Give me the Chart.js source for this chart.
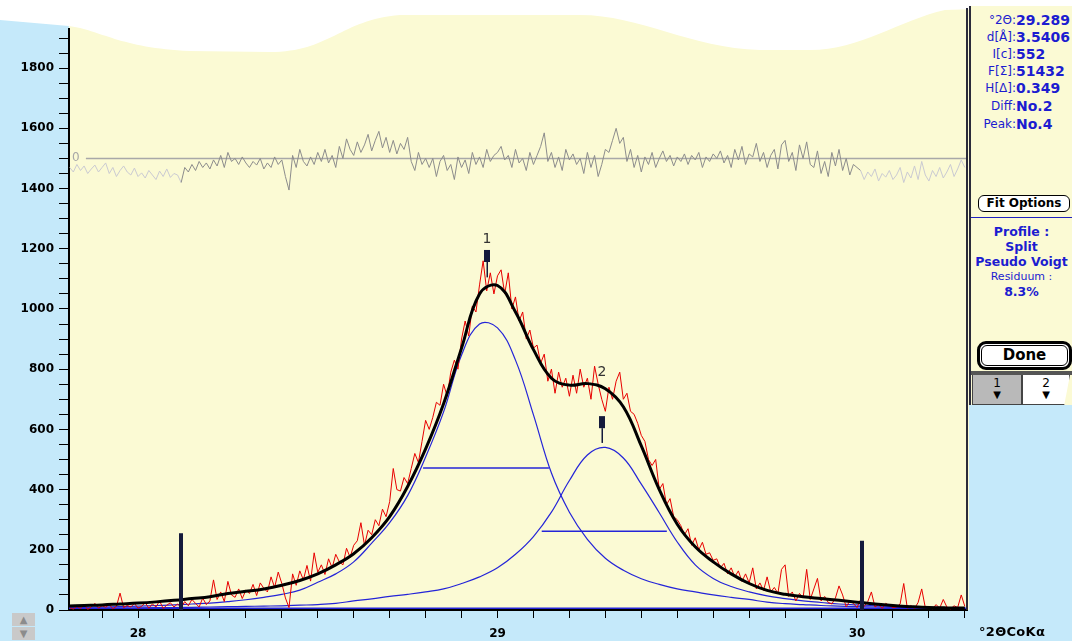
<!DOCTYPE html>
<html>
<head>
<meta charset="utf-8">
<script src="https://cdn.jsdelivr.net/npm/chart.js@4.4.1/dist/chart.umd.min.js"></script>
<style>
body { margin:0; width:1072px; height:641px; overflow:hidden; position:relative; background:#c5e9fa; font-family:"DejaVu Sans", sans-serif; }
#plot { position:absolute; left:0; top:0; }
#panel { position:absolute; left:969px; top:6px; width:103px; height:399px; background:#fbfad4; border-left:2px solid #2b2b3a; box-sizing:border-box; color:#1c1cd0; }
.row { position:absolute; left:0; width:101px; height:16px; line-height:16px; }
.lab { position:absolute; right:56px; font-size:12px; }
.val { position:absolute; left:45px; font-size:14px; font-weight:bold; }
.c { position:absolute; left:0; width:101px; text-align:center; font-size:12.5px; line-height:15px; }
.b { font-weight:bold; }
#fitbtn { position:absolute; left:7px; top:189px; width:92px; height:17px; border:1px solid #000; border-radius:6px; box-sizing:border-box; background:#fff; color:#000; font-size:12px; font-weight:bold; text-align:center; line-height:15px; }
#divider { position:absolute; left:0; top:211px; width:101px; height:1px; background:#2020c0; }
#done { position:absolute; left:6px; top:335px; width:95px; height:29px; border:3px solid #000; border-radius:9px; box-sizing:border-box; background:#fff; }
#done div { position:absolute; left:1px; top:1px; right:1px; bottom:1px; border:1px solid #000; border-radius:6px; color:#000; font-size:15px; font-weight:bold; text-align:center; line-height:19px; }
#band { position:absolute; left:0; top:365px; width:101px; height:4px; background:#555; }
.tab { position:absolute; top:369px; height:30px; box-sizing:border-box; border:1px solid #444; border-top:none; color:#000; font-size:12px; text-align:center; line-height:12px; padding-top:2px; }
.t1 { left:1px; width:50px; background:#b9b9b9; }
.t2 { left:51px; width:48px; background:#fff; clip-path:polygon(0 0,100% 0,88% 100%,0 100%); }
.arr { font-size:10px; line-height:11px; }
#unit { position:absolute; left:979px; top:624px; font-size:13px; font-weight:bold; color:#000; letter-spacing:0.3px; }
.scroll { position:absolute; left:12px; width:23px; height:13px; background:#c9c9c9; color:#8c8c8c; font-size:10px; text-align:center; line-height:13px; }
</style>
</head>
<body>
<canvas id="plot" width="1072" height="641"></canvas>
<div id="panel">
  <div class="row" style="top:6px"><span class="lab">°2Θ:</span><span class="val">29.289</span></div>
  <div class="row" style="top:23px"><span class="lab">d[Å]:</span><span class="val">3.5406</span></div>
  <div class="row" style="top:40px"><span class="lab">I[c]:</span><span class="val">552</span></div>
  <div class="row" style="top:57px"><span class="lab">F[Σ]:</span><span class="val">51432</span></div>
  <div class="row" style="top:74px"><span class="lab">H[Δ]:</span><span class="val">0.349</span></div>
  <div class="row" style="top:92px"><span class="lab">Diff:</span><span class="val">No.2</span></div>
  <div class="row" style="top:110px"><span class="lab">Peak:</span><span class="val">No.4</span></div>
  <div id="fitbtn">Fit Options</div>
  <div id="divider"></div>
  <div class="c b" style="top:218px">Profile :</div>
  <div class="c b" style="top:233px">Split</div>
  <div class="c b" style="top:248px">Pseudo Voigt</div>
  <div class="c" style="top:263px;font-size:11px">Residuum :</div>
  <div class="c b" style="top:278px">8.3%</div>
  <div id="done"><div>Done</div></div>
  <div id="band"></div>
  <div class="tab t1"><div>1</div><div class="arr">▼</div></div>
  <div class="tab t2"><div>2</div><div class="arr">▼</div></div>
</div>
<div id="unit">°2ΘCoKα</div>
<div class="scroll" style="top:613px">▲</div>
<div class="scroll" style="top:627px">▼</div>
<script>
// sampling grids (degrees 2-theta)
var fitTheta = [];
for (var i = 0; i <= 50; i++) fitTheta.push(+(27.80 + i * 0.05).toFixed(2));
var obsTheta = [];
for (var i = 0; i < 250; i++) obsTheta.push(+(27.81 + i * 0.01).toFixed(2));

// measured counts (red)
var observed = [
	8, 3, 12, 5, 18, 2, 10, 22, 6, 14,
	9, 18, 4, 12, 56, 8, 15, 10, 22, 6,
	12, 25, 6, 20, 10, 30, 5, 16, 24, 10,
	20, 8, 28, 14, 35, 22, 10, 40, 18, 30,
	100, 35, 60, 28, 95, 50, 42, 70, 38, 66,
	55, 85, 48, 90, 72, 60, 110, 75, 126, 88,
	40, 8, 120, 82, 130, 100, 148, 96, 190, 125,
	150, 118, 170, 140, 185, 160, 150, 205, 175, 215,
	230, 290, 215, 265, 250, 300, 280, 335, 310, 360,
	470, 400, 395, 440, 420, 470, 520, 490, 560, 630,
	600, 640, 690, 680, 750, 710, 790, 830, 800, 900,
	960, 910, 1010, 990, 1080, 1160, 1060, 1120, 1050, 1110,
	1130, 1050, 1120, 1000, 1040, 960, 990, 900, 930, 870,
	880, 820, 850, 760, 800, 720, 790, 740, 770, 710,
	780, 720, 800, 740, 770, 700, 810, 750, 700, 660,
	740, 700, 760, 790, 700, 720, 660, 650, 620, 580,
	560, 500, 480, 500, 400, 420, 350, 370, 310, 300,
	280, 250, 270, 215, 240, 200, 225, 185, 190, 165,
	170, 140, 155, 120, 140, 110, 130, 95, 120, 90,
	140, 70, 90, 65, 110, 60, 75, 55, 135, 150,
	45, 60, 30, 55, 40, 135, 35, 70, 105, 30,
	45, 25, 20, 40, 80, 50, 10, 30, 22, 8,
	35, 12, 28, 60, 10, 18, 5, 22, 15, 8,
	10, 20, 88, 6, 15, 5, 25, 70, 8, 12,
	4, 18, 6, 35, 10, 3, 14, 8, 50, 12
];

// difference curve, drawn around an offset of 1500
var difference = [
	1470, 1455, 1480, 1460, 1475, 1450, 1465, 1478, 1455, 1470,
	1485, 1450, 1470, 1440, 1460, 1475, 1455, 1445, 1468, 1440,
	1452, 1435, 1460, 1445, 1430, 1458, 1440, 1465, 1437, 1450,
	1445, 1420, 1470, 1455, 1480, 1460, 1490, 1470, 1485, 1465,
	1495, 1475, 1510, 1470, 1520, 1490, 1500, 1480, 1505, 1485,
	1470, 1490, 1478, 1500, 1465, 1485, 1470, 1505, 1480, 1495,
	1440, 1395, 1510, 1470, 1530, 1490, 1475, 1505, 1480, 1520,
	1490, 1530, 1485, 1510, 1470, 1540, 1500, 1565, 1530, 1510,
	1555, 1520, 1545, 1580, 1525, 1560, 1590, 1535, 1570, 1520,
	1560, 1515, 1550, 1530, 1570, 1490, 1460, 1520, 1480, 1500,
	1470, 1500, 1440, 1490, 1510, 1460, 1480, 1430, 1505, 1470,
	1495, 1450, 1520, 1480, 1505, 1470, 1530, 1490, 1510, 1520,
	1540, 1495, 1510, 1470, 1530, 1485, 1500, 1460, 1520, 1480,
	1510, 1540, 1585, 1490, 1520, 1470, 1505, 1460, 1530, 1495,
	1515, 1480, 1500, 1450, 1520, 1470, 1510, 1440, 1480, 1530,
	1520, 1560, 1600, 1550, 1570, 1490, 1530, 1470, 1510, 1455,
	1505, 1480, 1520, 1470, 1500, 1525, 1490, 1510, 1475, 1505,
	1490, 1515, 1480, 1510, 1495, 1520, 1470, 1505, 1490, 1515,
	1500, 1525, 1485, 1510, 1470, 1530, 1495, 1540, 1480, 1515,
	1505, 1550, 1490, 1520, 1470, 1510, 1530, 1465, 1545, 1560,
	1490, 1520, 1460, 1545, 1500, 1555, 1480, 1470, 1525, 1450,
	1490, 1440, 1520, 1475, 1530, 1460, 1500, 1445, 1480, 1470,
	1460, 1430, 1455, 1440, 1465, 1425, 1450, 1438, 1460, 1430,
	1445, 1470, 1420, 1455, 1435, 1475, 1430, 1490, 1445, 1425,
	1460, 1440, 1470, 1435, 1455, 1480, 1440, 1465, 1495, 1470
];

// fitted profiles on the 0.05 grid
var peakOne = [
	8, 9, 10, 11, 13, 15, 17, 20, 23, 28,
	34, 42, 52, 66, 92, 120, 160, 222, 290, 380,
	508, 658, 847, 950, 937, 830, 648, 455, 325, 235,
	172, 132, 104, 85, 70, 60, 50, 42, 35, 26,
	21, 18, 15, 13, 11, 10, 9, 8, 7, 7, 6
];
var peakTwo = [
	5, 5, 6, 6, 7, 8, 8, 9, 10, 11,
	12, 13, 14, 16, 18, 22, 30, 37, 45, 52,
	60, 70, 88, 110, 140, 185, 244, 325, 430, 515,
	540, 505, 418, 323, 226, 150, 105, 78, 60, 47,
	38, 30, 25, 20, 17, 14, 12, 10, 9, 8, 7
];
var fitSum = [
	13, 15, 17, 20, 23, 27, 32, 38, 44, 55,
	62, 70, 82, 98, 120, 150, 187, 240, 310, 410,
	535, 685, 870, 1050, 1078, 990, 865, 770, 747, 752,
	735, 675, 545, 400, 285, 210, 160, 120, 88, 65,
	52, 44, 38, 32, 26, 20, 15, 11, 8, 7, 7
];
var backgroundLevel = 6;

// half-maximum bars of the two peaks
var fwhmFrom = [28.793, 29.123];
var fwhmTo = [29.143, 29.471];
var fwhmLevel = [472, 262];

// peak markers and fit range markers
var peakNames = ["1", "2"];
var peakTheta = [28.97, 29.29];
var peakMarkTop = [1196, 644];
var peakMarkBottom = [1156, 604];
var peakStemBottom = [1105, 555];
var peakLabelAt = [1230, 790];
var rangeMarks = [28.12, 30.015];
var rangeTops = [255, 230];
var diffZero = 1500;

var xMin = 27.808, xMax = 30.306;

function pairs(xs, ys) {
	return ys.map(function(y, i) { return { x: xs[i], y: y }; });
}

var blue = "#2424d8";
var dark = "#141a3c";

var backdrop = {
	id: "backdrop",
	beforeDraw: function(chart) {
		var ctx = chart.ctx, a = chart.chartArea;
		ctx.save();
		ctx.fillStyle = "#c5e9fa";
		ctx.fillRect(0, 0, chart.width, chart.height);
		ctx.fillStyle = "#fbfad4";
		ctx.fillRect(a.left, 0, a.right - a.left + 2, a.bottom);
		// torn white strip along the top of the screenshot
		ctx.fillStyle = "#ffffff";
		ctx.beginPath();
		ctx.moveTo(0, 0);
		ctx.lineTo(chart.width, 0);
		ctx.lineTo(chart.width, 6);
		ctx.lineTo(945, 10);
		ctx.bezierCurveTo(900, 20, 860, 50, 810, 50);
		ctx.lineTo(760, 50);
		ctx.bezierCurveTo(690, 48, 640, 15, 580, 15);
		ctx.lineTo(400, 15);
		ctx.bezierCurveTo(340, 20, 330, 52, 270, 52);
		ctx.lineTo(190, 51);
		ctx.bezierCurveTo(120, 48, 100, 30, 69, 26);
		ctx.lineTo(0, 20);
		ctx.closePath();
		ctx.fill();
		ctx.restore();
	},
	afterDatasetsDraw: function(chart) {
		var ctx = chart.ctx, a = chart.chartArea;
		var xs = chart.scales.x, ys = chart.scales.y;
		ctx.save();
		ctx.fillStyle = dark;
		rangeMarks.forEach(function(t, i) {
			var px = Math.round(xs.getPixelForValue(t));
			var top = ys.getPixelForValue(rangeTops[i]);
			ctx.fillRect(px - 2, top, 4, a.bottom - top);
		});
		peakTheta.forEach(function(t, i) {
			var px = Math.round(xs.getPixelForValue(t));
			var y0 = ys.getPixelForValue(peakMarkTop[i]);
			var y1 = ys.getPixelForValue(peakMarkBottom[i]);
			var y2 = ys.getPixelForValue(peakStemBottom[i]);
			ctx.fillStyle = dark;
			ctx.fillRect(px - 3, y0, 6, y1 - y0);
			ctx.fillRect(px - 0.5, y1, 1.5, y2 - y1);
			ctx.fillStyle = "#333333";
			ctx.font = '14px "DejaVu Sans"';
			ctx.textAlign = "center";
			ctx.textBaseline = "middle";
			ctx.fillText(peakNames[i], px, ys.getPixelForValue(peakLabelAt[i]));
		});
		ctx.fillStyle = "#a8a8a8";
		ctx.font = '12px "DejaVu Sans"';
		ctx.textAlign = "left";
		ctx.textBaseline = "middle";
		ctx.fillText("0", a.left + 3, ys.getPixelForValue(diffZero) - 1);
		ctx.fillStyle = "#2b2b3a";
		ctx.fillRect(a.right - 1, 8, 2, a.bottom - 8);
		ctx.restore();
	}
};

var datasets = [
	{ data: pairs(obsTheta, observed), borderColor: "#e80000", borderWidth: 1, tension: 0, order: 2 },
	{ data: pairs(fitTheta, fitSum), borderColor: "#000000", borderWidth: 3, tension: 0.4, order: 1 },
	{ data: pairs(fitTheta, peakOne), borderColor: blue, borderWidth: 1.2, tension: 0.4, order: 3 },
	{ data: pairs(fitTheta, peakTwo), borderColor: blue, borderWidth: 1.2, tension: 0.4, order: 3 },
	{ data: [{ x: xMin, y: backgroundLevel }, { x: xMax, y: backgroundLevel }], borderColor: blue, borderWidth: 1.5, order: 3 },
	{ data: [{ x: 27.855, y: diffZero }, { x: xMax, y: diffZero }], borderColor: "#a8a8a8", borderWidth: 1.5, order: 6 },
	{
		data: pairs(obsTheta, difference), borderWidth: 1, tension: 0, order: 5,
		borderColor: "#8c8c8c",
		segment: {
			borderColor: function(c) {
				var out = c.p0.parsed.x < rangeMarks[0] || c.p1.parsed.x > rangeMarks[1];
				return out ? "#cacad2" : "#8c8c8c";
			}
		}
	}
];
fwhmFrom.forEach(function(f, i) {
	datasets.push({ data: [{ x: f, y: fwhmLevel[i] }, { x: fwhmTo[i], y: fwhmLevel[i] }], borderColor: blue, borderWidth: 1.5, order: 3 });
});

var tickFont = { family: "DejaVu Sans", size: 12, weight: "bold" };

new Chart(document.getElementById("plot"), {
	type: "line",
	data: { datasets: datasets },
	options: {
		responsive: false,
		animation: false,
		devicePixelRatio: 1,
		layout: { padding: { left: 0, right: 105, top: 29, bottom: 0 } },
		elements: { point: { radius: 0 }, line: { borderJoinStyle: "round", fill: false } },
		plugins: { legend: { display: false }, tooltip: { enabled: false } },
		scales: {
			x: {
				type: "linear", min: xMin, max: xMax,
				border: { color: "#000", width: 2 },
				grid: { drawOnChartArea: false, drawTicks: true, tickLength: 8, color: "#000" },
				ticks: {
					stepSize: 0.1, includeBounds: false, autoSkip: false, maxRotation: 0,
					padding: 9, color: "#000", font: tickFont,
					callback: function(v) { return Math.abs(v - Math.round(v)) < 1e-6 ? String(Math.round(v)) : ""; }
				},
				afterFit: function(s) { s.height = 31; }
			},
			y: {
				min: 0, max: 1930,
				border: { color: "#000", width: 2 },
				grid: { drawOnChartArea: false, drawTicks: true, tickLength: 10, color: "#000" },
				ticks: {
					stepSize: 50, includeBounds: false, autoSkip: false,
					padding: 5, color: "#000", font: tickFont,
					callback: function(v) { return v % 200 === 0 ? String(v) : ""; }
				},
				afterFit: function(s) { s.width = 69; }
			}
		}
	},
	plugins: [backdrop]
});
</script>
</body>
</html>
